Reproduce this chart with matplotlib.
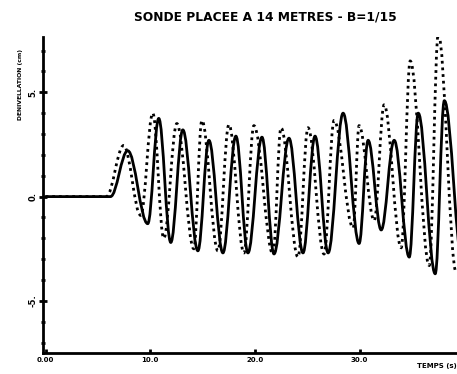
import matplotlib
matplotlib.use("Agg")
import matplotlib.pyplot as plt
from matplotlib.path import Path
from matplotlib.patches import PathPatch
from matplotlib.ticker import MultipleLocator

# Extremes: time (s), elevation (cm)
solid_t = [0.0, 6.2, 7.85, 9.76, 10.81, 11.96, 13.11, 14.55, 15.6, 16.94, 18.18, 19.33,
           20.67, 21.82, 23.25, 24.59, 25.74, 26.99, 28.42, 29.95, 30.81, 32.06, 33.3,
           34.74, 35.6, 37.22, 38.09, 39.9]
solid_v = [0.0, 0.0, 2.2, -1.3, 3.75, -2.2, 3.2, -2.6, 2.7, -2.7, 2.9, -2.7,
           2.85, -2.75, 2.8, -2.7, 2.9, -2.7, 4.0, -2.25, 2.7, -1.6, 2.7,
           -2.9, 4.0, -3.7, 4.6, -3.5]

dotted_t = [0.0, 5.8, 7.46, 9.09, 10.24, 11.29, 12.54, 14.16, 14.93, 16.46, 17.51, 18.95,
            19.9, 21.72, 22.49, 24.11, 25.07, 26.6, 27.56, 29.38, 29.95, 31.39, 32.34,
            33.97, 34.83, 36.65, 37.51, 39.23]
dotted_v = [0.0, 0.0, 2.45, -0.9, 4.0, -2.0, 3.5, -2.5, 3.65, -2.6, 3.45, -2.7,
            3.4, -2.75, 3.3, -2.9, 3.3, -2.75, 3.65, -1.5, 3.4, -1.15, 4.4,
            -2.45, 6.5, -3.3, 7.8, -3.65]

title = "SONDE PLACEE A 14 METRES - B=1/15"
ylabel = "DENIVELLATION (cm)"
xlabel = "TEMPS (s)"
xticks = [0, 10, 20, 30]
xticklabels = ["0.00", "10.0", "20.0", "30.0"]
yticks = [-5, 0, 5]
yticklabels = ["-5.", "0.", "5."]


def smooth_path(ts, vs, k=0.37):
    verts = [(ts[0], vs[0])]
    codes = [Path.MOVETO]
    for i in range(len(ts) - 1):
        t0, v0, t1, v1 = ts[i], vs[i], ts[i + 1], vs[i + 1]
        dt = t1 - t0
        verts += [(t0 + k * dt, v0), (t1 - k * dt, v1), (t1, v1)]
        codes += [Path.CURVE4] * 3
    return Path(verts, codes)


fig = plt.figure(figsize=(4.57, 3.74), dpi=100)
ax = fig.add_axes([0.094, 0.056, 0.906, 0.845])
ax.set_xlim(-0.25, 39.3)
ax.set_ylim(-7.5, 7.65)

ax.add_patch(PathPatch(smooth_path(solid_t, solid_v), fill=False, lw=2.0,
                       color="black", capstyle="round", joinstyle="round"))
ax.add_patch(PathPatch(smooth_path(dotted_t, dotted_v), fill=False, lw=2.0,
                       color="black", linestyle=(0, (1.0, 1.4))))

for s in ["top", "right"]:
    ax.spines[s].set_visible(False)
for s in ["left", "bottom"]:
    ax.spines[s].set_linewidth(2.0)

ax.set_xticks(xticks)
ax.set_xticklabels(xticklabels, fontsize=5, fontweight="bold")
ax.set_yticks(yticks)
ax.set_yticklabels(yticklabels, fontsize=6, fontweight="bold", rotation=90, va="center")
ax.yaxis.set_minor_locator(MultipleLocator(1))
ax.tick_params(axis="y", which="major", direction="inout", length=6, width=2, pad=1)
ax.tick_params(axis="y", which="minor", direction="inout", length=3, width=2)
ax.tick_params(axis="x", which="major", direction="in", length=3, width=2, pad=3)

fig.text(0.58, 0.955, title, ha="center", va="center", fontsize=8.8, fontweight="heavy")
fig.text(0.045, 0.775, ylabel, ha="center", va="center", rotation=90,
         fontsize=4.4, fontweight="heavy")
fig.text(0.912, 0.022, xlabel, ha="left", va="center", fontsize=5, fontweight="heavy")

fig.savefig("out.png", dpi=100)
